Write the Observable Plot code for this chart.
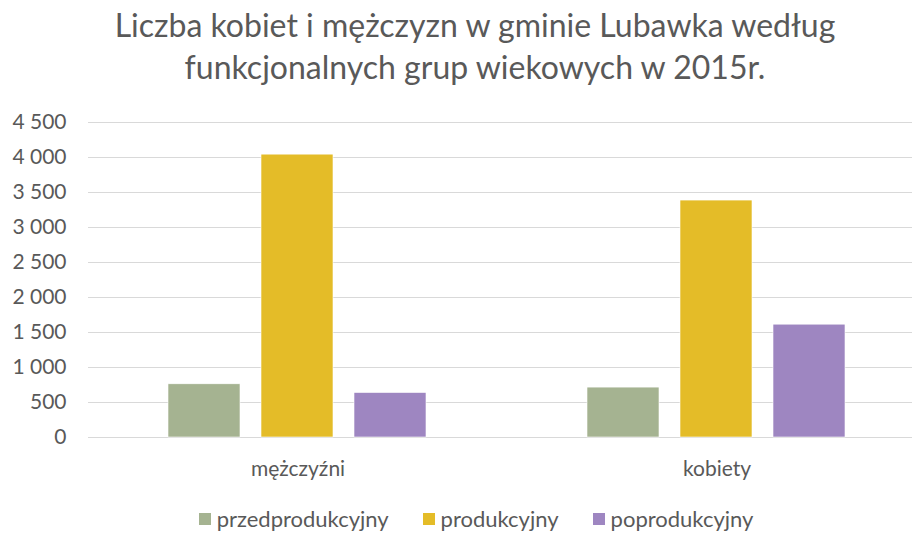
<!DOCTYPE html>
<html>
<head>
<meta charset="utf-8">
<script src="https://cdn.jsdelivr.net/npm/d3@7"></script>
<script src="https://cdn.jsdelivr.net/npm/@observablehq/plot@0.6"></script>
<style>
  html, body { margin: 0; padding: 0; background: #fff; }
  #wrap { position: relative; width: 912px; height: 533px; overflow: hidden; font-family: Lato, "Open Sans", sans-serif; color: #595959; }
  #title { position: absolute; left: 0; top: 4px; width: 950px; text-align: center; font-size: 32px; line-height: 42.3px; color: #595959; }
  #chart { position: absolute; left: 0; top: 100px; width: 926px; }
  #chart svg { max-width: none !important; }
  #legend { position: absolute; left: 0; top: 506px; width: 952px; display: flex; justify-content: center; }
  .lg-swatches { min-height: 0 !important; margin: 0 !important; line-height: 26px; }
  .lg-swatch { margin-right: 34px !important; color: #595959; }
  .lg-swatch:last-child { margin-right: 0 !important; }
  .lg-swatch svg { margin-right: 6px !important; }
</style>
</head>
<body>
<div id="wrap">
  <div id="title">Liczba kobiet i mężczyzn w gminie Lubawka według<br>funkcjonalnych grup wiekowych w 2015r.</div>
  <div id="chart"></div>
  <div id="legend"></div>
</div>
<script>
const categories = ["mężczyźni", "kobiety"];
const groups = ["przedprodukcyjny", "produkcyjny", "poprodukcyjny"];
const przedprodukcyjny = [760, 713];
const produkcyjny = [4041, 3385];
const poprodukcyjny = [636, 1612];
const yTicks = [0, 500, 1000, 1500, 2000, 2500, 3000, 3500, 4000, 4500];
const colors = ["#A5B391", "#E4BC28", "#9E86C1"];

const series = [przedprodukcyjny, produkcyjny, poprodukcyjny];
const data = categories.flatMap((c, i) =>
  groups.map((g, j) => ({category: c, group: g, value: series[j][i]}))
);

const fmt = d => d3.format(",")(d).replace(/,/g, "\u00a0");

const chart = Plot.plot({
  width: 926,
  height: 390,
  marginLeft: 87,
  marginRight: 0,
  marginTop: 22,
  marginBottom: 53,
  style: {fontFamily: "Lato, 'Open Sans', sans-serif", fontSize: "21px", color: "#595959", background: "transparent", overflow: "visible", maxWidth: "none"},
  fx: {domain: categories, paddingInner: 0, paddingOuter: 0, label: null},
  x: {domain: groups, axis: null, paddingInner: 0.221, paddingOuter: 0.858},
  y: {domain: [0, 4500], label: null},
  color: {domain: groups, range: colors},
  marks: [
    Plot.ruleY(yTicks, {stroke: "#d9d9d9", strokeWidth: 1.2}),
    Plot.axisY(yTicks, {tickFormat: fmt, tickSize: 0, tickPadding: 22, label: null}),
    Plot.axisFx({anchor: "bottom", tickSize: 0, tickPadding: 24, label: null}),
    Plot.barY(data, {fx: "category", x: "group", y: "value", fill: "group", stroke: "#fff", strokeWidth: 0.6})
  ]
});
document.getElementById("chart").appendChild(chart);

const legend = Plot.legend({
  color: {domain: groups, range: colors},
  legend: "swatches",
  swatchSize: 12,
  className: "lg",
  style: {fontFamily: "Lato, 'Open Sans', sans-serif", fontSize: "22px", color: "#595959"}
});
document.getElementById("legend").appendChild(legend);
</script>
</body>
</html>
